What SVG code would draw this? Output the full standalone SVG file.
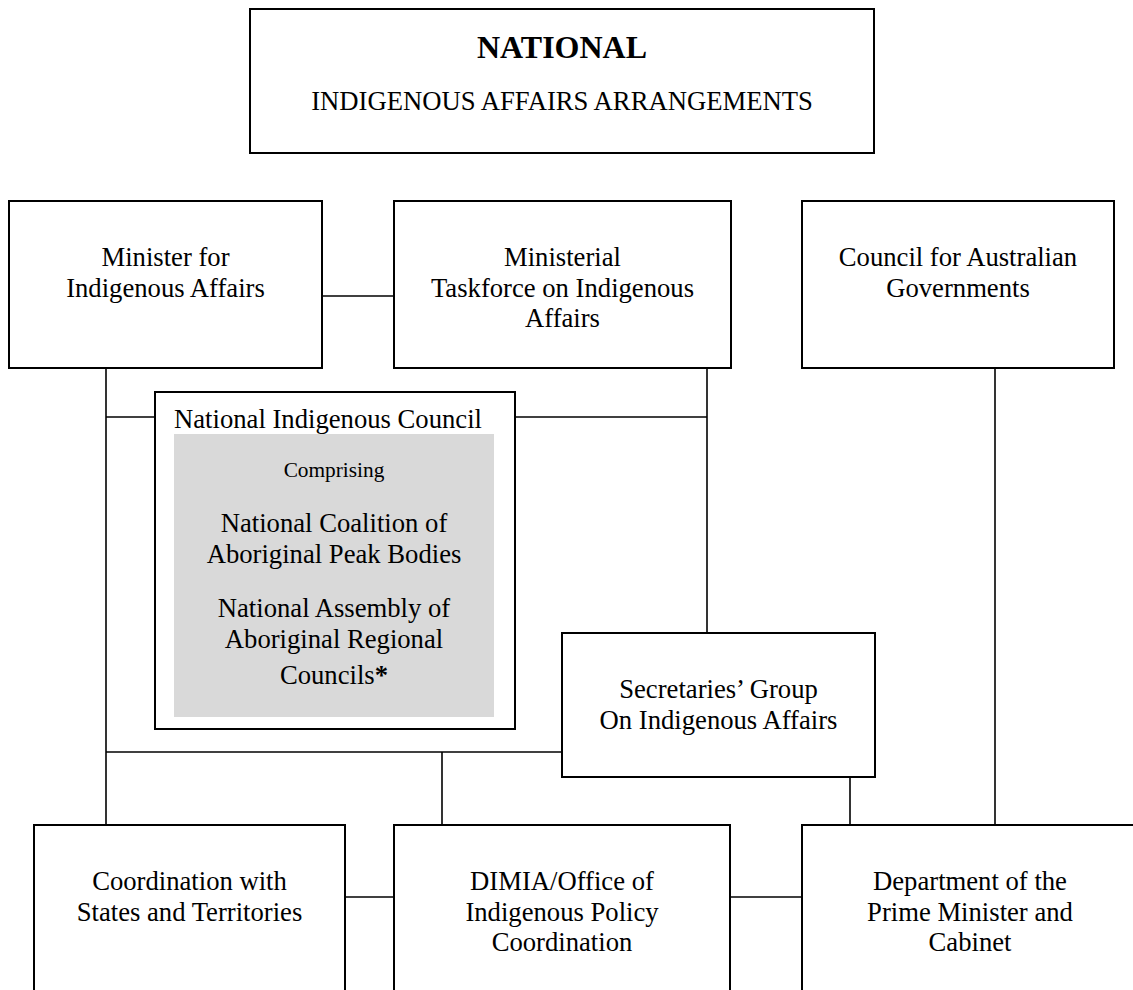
<svg xmlns="http://www.w3.org/2000/svg" width="1133" height="990" viewBox="0 0 1133 990">
<style>
.box{fill:#fff;stroke:#000;stroke-width:2}
.gray{fill:#d9d9d9;stroke:none}
.con line{stroke:#000;stroke-width:1.6}
text{font-family:"Liberation Serif","Times New Roman",serif;font-size:26.67px;fill:#000;text-anchor:middle}
.small{font-size:21.33px}
.title{font-size:32px;font-weight:bold}
</style>
<rect width="1133" height="990" fill="#fff"/>
<g id="connectors" class="con">
<line x1="322" y1="296" x2="394" y2="296"/>
<line x1="106" y1="368" x2="106" y2="825"/>
<line x1="106" y1="417" x2="155" y2="417"/>
<line x1="515" y1="417" x2="707" y2="417"/>
<line x1="707" y1="368" x2="707" y2="633"/>
<line x1="106" y1="752" x2="562" y2="752"/>
<line x1="442" y1="752" x2="442" y2="825"/>
<line x1="850" y1="777" x2="850" y2="825"/>
<line x1="995" y1="368" x2="995" y2="825"/>
<line x1="345" y1="897" x2="394" y2="897"/>
<line x1="730" y1="897" x2="802" y2="897"/>
</g>
<g id="title">
<rect class="box" x="250" y="9" width="624" height="144"/>
<text class="title" x="562" y="58">NATIONAL</text>
<text x="562" y="110">INDIGENOUS AFFAIRS ARRANGEMENTS</text>
</g>
<g id="minister">
<rect class="box" x="9" y="201" width="313" height="167"/>
<text x="165.5" y="266">Minister for</text>
<text x="165.5" y="297">Indigenous Affairs</text>
</g>
<g id="taskforce">
<rect class="box" x="394" y="201" width="337" height="167"/>
<text x="562.5" y="266">Ministerial</text>
<text x="562.5" y="297">Taskforce on Indigenous</text>
<text x="562.5" y="327">Affairs</text>
</g>
<g id="coag">
<rect class="box" x="802" y="201" width="312" height="167"/>
<text x="958" y="266">Council for Australian</text>
<text x="958" y="297">Governments</text>
</g>
<g id="nic">
<rect class="box" x="155" y="392" width="360" height="337"/>
<text x="174" y="428" style="text-anchor:start">National Indigenous Council</text>
<rect class="gray" x="174" y="434" width="320" height="283"/>
<text class="small" x="334" y="477">Comprising</text>
<text x="334" y="532">National Coalition of</text>
<text x="334" y="563">Aboriginal Peak Bodies</text>
<text x="334" y="617">National Assembly of</text>
<text x="334" y="648">Aboriginal Regional</text>
<text x="334" y="684">Councils<tspan font-weight="bold">*</tspan></text>
</g>
<g id="secretaries">
<rect class="box" x="562" y="633" width="313" height="144"/>
<text x="718.5" y="698">Secretaries’ Group</text>
<text x="718.5" y="729">On Indigenous Affairs</text>
</g>
<g id="coordination">
<rect class="box" x="34" y="825" width="311" height="180"/>
<text x="189.5" y="890">Coordination with</text>
<text x="189.5" y="921">States and Territories</text>
</g>
<g id="dimia">
<rect class="box" x="394" y="825" width="336" height="180"/>
<text x="562" y="890">DIMIA/Office of</text>
<text x="562" y="921">Indigenous Policy</text>
<text x="562" y="951">Coordination</text>
</g>
<g id="pmc">
<rect class="box" x="802" y="825" width="340" height="180"/>
<text x="970" y="890">Department of the</text>
<text x="970" y="921">Prime Minister and</text>
<text x="970" y="951">Cabinet</text>
</g>
</svg>
